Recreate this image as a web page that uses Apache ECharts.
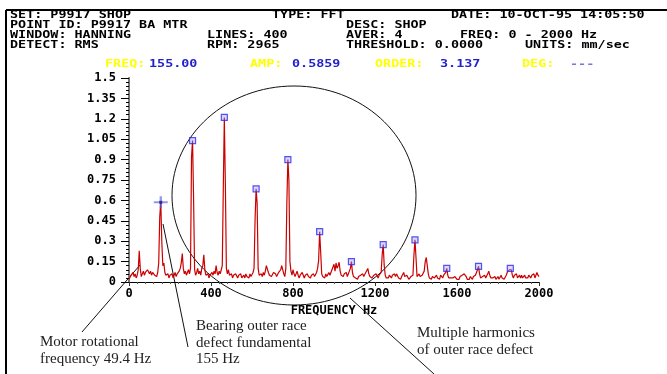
<!DOCTYPE html>
<html>
<head>
<meta charset="utf-8">
<title>FFT spectrum P9917</title>
<script src="https://cdn.jsdelivr.net/npm/echarts@6/dist/echarts.min.js"></script>
<style>
  html, body { margin: 0; padding: 0; background: #fff; }
  #spec { width: 667px; height: 374px; }
</style>
</head>
<body>
<div id="spec"></div>
<script>
// spectrum: 400 lines, 0 - 2000 Hz -> one value every 5 Hz (mm/sec RMS)
var STEP_HZ = 5;
var amp = [
  0.02,0.03,0.05,0.04,0.07,0.04,0.06,0.03,0.05,0.09,0.23,0.10,0.04,0.06,0.08,0.05,0.07,0.06,0.09,0.10, // 0
  0.06,0.08,0.05,0.07,0.08,0.05,0.06,0.04,0.07,0.14,0.48,0.586,0.30,0.12,0.14,0.07,0.05,0.04,0.06,0.03, // 100
  0.05,0.04,0.06,0.03,0.05,0.07,0.04,0.06,0.05,0.08,0.10,0.14,0.21,0.10,0.06,0.08,0.05,0.07,0.09,0.06, // 200
  0.10,0.92,1.04,0.62,0.09,0.05,0.07,0.10,0.06,0.08,0.05,0.10,0.12,0.20,0.09,0.05,0.04,0.06,0.03,0.05, // 300
  0.04,0.07,0.05,0.08,0.06,0.12,0.07,0.05,0.08,0.06,0.09,0.12,0.69,1.21,0.73,0.10,0.06,0.09,0.05,0.04, // 400
  0.06,0.03,0.05,0.04,0.06,0.05,0.03,0.05,0.04,0.06,0.03,0.04,0.05,0.03,0.06,0.04,0.05,0.03,0.06,0.04, // 500
  0.05,0.07,0.10,0.46,0.685,0.58,0.10,0.05,0.04,0.06,0.04,0.07,0.05,0.08,0.12,0.125,0.07,0.05,0.06,0.04, // 600
  0.05,0.07,0.08,0.06,0.04,0.05,0.07,0.06,0.09,0.12,0.125,0.06,0.04,0.10,0.58,0.90,0.75,0.15,0.08,0.05, // 700
  0.09,0.06,0.04,0.05,0.08,0.05,0.03,0.05,0.04,0.07,0.05,0.03,0.05,0.04,0.06,0.04,0.05,0.03,0.05,0.04, // 800
  0.06,0.04,0.05,0.07,0.10,0.16,0.37,0.22,0.06,0.04,0.05,0.03,0.06,0.04,0.05,0.07,0.05,0.06,0.09,0.11, // 900
  0.13,0.08,0.14,0.10,0.12,0.145,0.08,0.05,0.06,0.04,0.06,0.05,0.07,0.04,0.05,0.08,0.10,0.15,0.07,0.04, // 1000
  0.05,0.03,0.04,0.02,0.04,0.03,0.05,0.04,0.06,0.04,0.05,0.07,0.08,0.10,0.06,0.04,0.05,0.03,0.04,0.05, // 1100
  0.04,0.06,0.05,0.03,0.05,0.04,0.07,0.20,0.275,0.12,0.05,0.03,0.04,0.03,0.05,0.04,0.03,0.05,0.04,0.06, // 1200
  0.04,0.06,0.05,0.03,0.04,0.02,0.04,0.05,0.07,0.04,0.03,0.05,0.04,0.02,0.03,0.04,0.03,0.05,0.20,0.31, // 1300
  0.18,0.04,0.03,0.06,0.04,0.03,0.05,0.04,0.08,0.15,0.18,0.17,0.06,0.03,0.04,0.02,0.04,0.05,0.03,0.04, // 1400
  0.05,0.03,0.04,0.02,0.05,0.04,0.03,0.05,0.04,0.07,0.10,0.05,0.03,0.02,0.03,0.02,0.03,0.02,0.04,0.03, // 1500
  0.02,0.03,0.02,0.04,0.03,0.05,0.04,0.06,0.065,0.04,0.02,0.03,0.02,0.04,0.03,0.02,0.04,0.03,0.05,0.06, // 1600
  0.09,0.115,0.06,0.03,0.02,0.04,0.03,0.05,0.03,0.04,0.06,0.08,0.05,0.03,0.02,0.03,0.02,0.04,0.02,0.03, // 1700
  0.04,0.02,0.03,0.05,0.03,0.04,0.02,0.03,0.05,0.07,0.08,0.09,0.10,0.09,0.05,0.03,0.05,0.04,0.06,0.03, // 1800
  0.04,0.05,0.03,0.05,0.03,0.04,0.05,0.03,0.04,0.03,0.05,0.04,0.03,0.05,0.04,0.06,0.03,0.05,0.07,0.05, // 1900
  0.04
];
// outer race defect harmonics (boxed peaks) and the cursor line
var harmonicHz = [310, 465, 620, 775, 930, 1085, 1240, 1395, 1550, 1705, 1860];
var cursorHz = 155;
var xTicks = [0, 400, 800, 1200, 1600, 2000];
var yTicks = [0, 0.15, 0.3, 0.45, 0.6, 0.75, 0.9, 1.05, 1.2, 1.35, 1.5];

var spectrum = amp.map(function (v, i) { return [i * STEP_HZ, v]; });
function at(hz) { return [hz, amp[Math.round(hz / STEP_HZ)]]; }

var MONO = '"DejaVu Sans Mono", "Liberation Mono", monospace';
var SERIF = '"Liberation Serif", "DejaVu Serif", serif';

// header block text: [text, x, y, colour]
var header = [
  ['SET: P9917 SHOP', 10, 15, '#000'],
  ['TYPE: FFT', 272, 15, '#000'],
  ['DATE: 10-OCT-95 14:05:50', 451, 15, '#000'],
  ['POINT ID: P9917 BA MTR', 10, 25, '#000'],
  ['DESC: SHOP', 346, 25, '#000'],
  ['WINDOW: HANNING', 10, 35.5, '#000'],
  ['LINES: 400', 207, 35.5, '#000'],
  ['AVER: 4', 346, 35.5, '#000'],
  ['FREQ: 0 - 2000 Hz', 460, 35.5, '#000'],
  ['DETECT: RMS', 10, 45.5, '#000'],
  ['RPM: 2965', 207, 45.5, '#000'],
  ['THRESHOLD: 0.0000', 346, 45.5, '#000'],
  ['UNITS: mm/sec', 525, 45.5, '#000'],
  ['FREQ:', 105, 64, '#ffff00'],
  ['155.00', 149, 64, '#2222cc'],
  ['AMP:', 250, 64, '#ffff00'],
  ['0.5859', 292, 64, '#2222cc'],
  ['ORDER:', 375, 64, '#ffff00'],
  ['3.137', 440, 64, '#2222cc'],
  ['DEG:', 522, 64, '#ffff00'],
  ['---', 570, 64, '#7777e0']
];

// hand written notes below the plot
var notes = [
  ['Motor rotational', 40, 342],
  ['frequency 49.4 Hz', 40, 359],
  ['Bearing outer race', 196, 326],
  ['defect fundamental', 196, 343],
  ['155 Hz', 196, 359],
  ['Multiple harmonics', 417, 333],
  ['of outer race defect', 417, 350]
];

var graphics = [];
header.forEach(function (h) {
  graphics.push({
    type: 'text', x: h[1], y: h[2], scaleX: 1.34, silent: true,
    style: { text: h[0], fill: h[3], font: 'bold 10px ' + MONO, textVerticalAlign: 'middle', verticalAlign: 'middle' }
  });
});
notes.forEach(function (n) {
  graphics.push({
    type: 'text', x: n[1], y: n[2], silent: true,
    style: { text: n[0], fill: '#222', font: '15px ' + SERIF, textVerticalAlign: 'middle', verticalAlign: 'middle' }
  });
});
// frame lines of the printout
graphics.push({ type: 'line', silent: true, shape: { x1: 6, y1: 10, x2: 667, y2: 10 }, style: { stroke: '#000', lineWidth: 2 } });
graphics.push({ type: 'line', silent: true, shape: { x1: 6, y1: 10, x2: 6, y2: 374 }, style: { stroke: '#000', lineWidth: 2 } });
// pointers + circle
graphics.push({ type: 'ellipse', silent: true, shape: { cx: 294, cy: 195.5, rx: 122, ry: 109.5 }, style: { fill: 'none', stroke: '#111', lineWidth: 1 } });
graphics.push({ type: 'line', silent: true, shape: { x1: 82, y1: 332, x2: 140, y2: 265 }, style: { stroke: '#111', lineWidth: 1 } });
graphics.push({ type: 'line', silent: true, shape: { x1: 188, y1: 347, x2: 163, y2: 224 }, style: { stroke: '#111', lineWidth: 1 } });
graphics.push({ type: 'line', silent: true, shape: { x1: 350, y1: 298, x2: 434, y2: 374 }, style: { stroke: '#111', lineWidth: 1 } });

var myChart = echarts.init(document.getElementById('spec'));

option = {
  animation: false,
  backgroundColor: '#fff',
  grid: { left: 129, right: 128, top: 78, bottom: 92 },
  xAxis: [{
    type: 'value', min: 0, max: 2000, interval: 400,
    name: 'FREQUENCY Hz', nameLocation: 'middle', nameGap: 22,
    nameTextStyle: { color: '#000', fontFamily: MONO, fontWeight: 'bold', fontSize: 12 },
    axisLine: { show: false },
    axisTick: { show: true, length: 4, lineStyle: { color: '#333' } },
    minorTick: { show: true, splitNumber: 10, length: 2, lineStyle: { color: '#555' } },
    axisLabel: {
      color: '#000', fontFamily: MONO, fontWeight: 'bold', fontSize: 12, margin: 6,
      customValues: xTicks,
      formatter: function (v) { return String(v); }
    },
    splitLine: { show: false }
  }, {
    type: 'value', min: 0, max: 2000, position: 'top',
    axisLine: { show: true, lineStyle: { color: '#000', width: 1 } },
    axisTick: { show: false }, axisLabel: { show: false }, splitLine: { show: false }
  }],
  yAxis: [{
    type: 'value', min: 0, max: 1.5, interval: 0.15,
    axisLine: { show: true, lineStyle: { color: '#000', width: 1 } },
    axisTick: { show: true, length: 8, lineStyle: { color: '#000' } },
    minorTick: { show: true, splitNumber: 5, length: 3, lineStyle: { color: '#000' } },
    axisLabel: {
      color: '#000', fontFamily: MONO, fontWeight: 'bold', fontSize: 12, margin: 13,
      formatter: function (v) {
        var hit = yTicks.filter(function (t) { return Math.abs(t - v) < 1e-6; });
        return hit.length ? String(hit[0]) : '';
      }
    },
    splitLine: { show: false }
  }, {
    type: 'value', min: 0, max: 1.5, position: 'right',
    axisLine: { show: true, lineStyle: { color: '#777', width: 2 } },
    axisTick: { show: false }, axisLabel: { show: false }, splitLine: { show: false }
  }],
  series: [
    {
      name: 'spectrum', type: 'line',
      data: spectrum,
      showSymbol: false,
      lineStyle: { color: '#cc0000', width: 1.2 },
      z: 2
    },
    {
      name: 'harmonics', type: 'scatter',
      data: harmonicHz.map(at),
      symbol: 'rect', symbolSize: 6,
      itemStyle: { color: 'rgba(150,150,255,0.45)', borderColor: '#2a2aee', borderWidth: 1.2 },
      z: 3
    },
    {
      name: 'cursor', type: 'scatter',
      data: [at(cursorHz)],
      symbol: 'path://M5,0h2v5h5v2h-5v5h-2v-5h-5v-2h5z', symbolSize: [14, 12],
      itemStyle: { color: 'rgba(90,90,235,0.8)' },
      z: 4
    },
    {
      name: 'cursor dot', type: 'scatter',
      data: [at(cursorHz)],
      symbol: 'rect', symbolSize: 3,
      itemStyle: { color: '#1a1a70' },
      z: 5
    }
  ],
  graphic: graphics
};

myChart.setOption(option);
window.addEventListener("resize", function () {
  myChart.resize();
});
</script>
</body>
</html>
